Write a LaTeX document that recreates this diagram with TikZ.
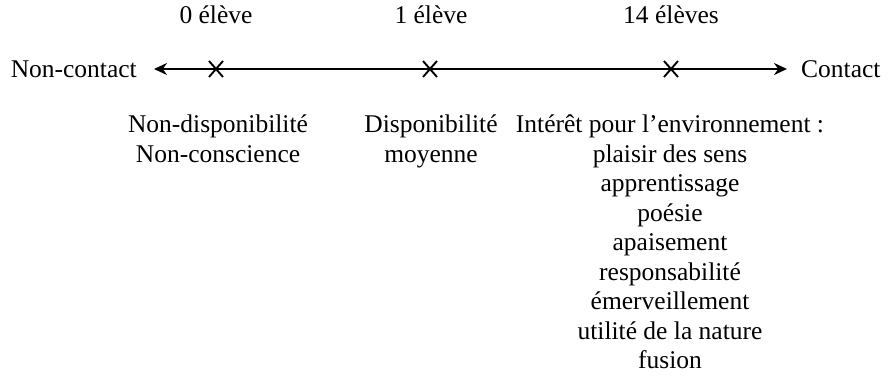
\documentclass[tikz,border=0pt]{standalone}
\usepackage{fontspec}
\setmainfont{Liberation Serif}
\usetikzlibrary{arrows.meta}
\begin{document}
\begin{tikzpicture}[x=1pt,y=-1pt,
  lab/.style={font=\fontsize{25.5}{29.5}\selectfont, inner sep=0pt, anchor=base},
  multi/.style={lab, align=center, anchor=north},
  cross/.style={line width=1.9pt},
  axis/.style={line width=2.4pt, -{Stealth[length=13pt,width=12pt]}}]
\useasboundingbox (0,0) rectangle (888,381);
\coordinate (L) at (154,69);
\coordinate (R) at (787,69);
\coordinate (m0) at (216,69);
\coordinate (m1) at (430,69);
\coordinate (m2) at (671,69);
\draw[axis] (m0) -- (L);
\draw[axis] (m0) -- (R);
\foreach \m in {m0,m1,m2}{
  \draw[cross] ([shift={(-7,-8)}]\m) -- ([shift={(7,8)}]\m);
  \draw[cross] ([shift={(-7,8)}]\m) -- ([shift={(7,-8)}]\m);
}
\node[lab] (t0) at (216,23) {0 élève};
\node[lab] (t1) at (431,23) {1 élève};
\node[lab] (t2) at (671,23) {14 élèves};
\node[lab, anchor=base east] (nc) at (137,77) {Non-contact};
\node[lab, anchor=base west] (c) at (801,77) {Contact};
\node[multi] (b0) at (218,115) {Non-disponibilité\\Non-conscience};
\node[multi] (b1) at (431,115) {Disponibilité\\moyenne};
\node[multi] (b2) at (670,115) {Intérêt pour l’environnement :\\plaisir des sens\\apprentissage\\poésie\\apaisement\\responsabilité\\émerveillement\\utilité de la nature\\fusion};
\end{tikzpicture}
\end{document}
